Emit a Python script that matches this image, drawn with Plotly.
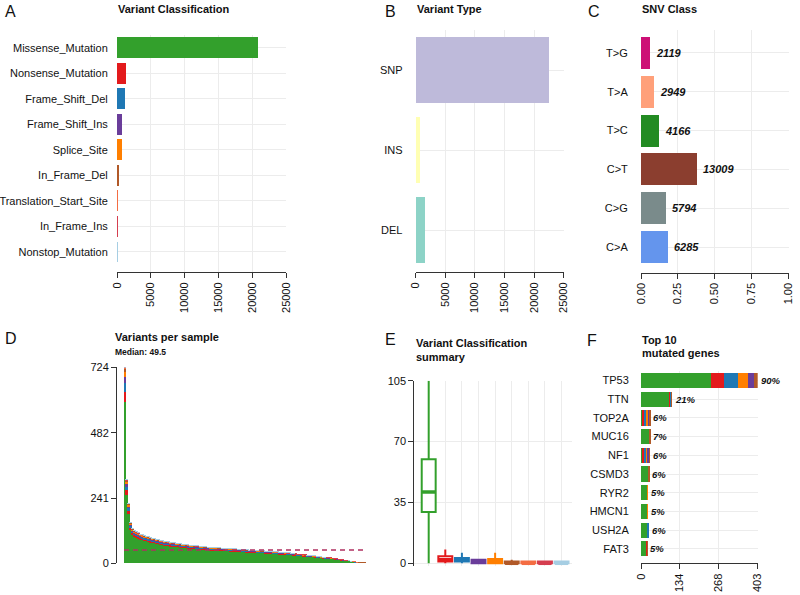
import numpy as np
import plotly.graph_objects as go

# ---------------- data ----------------
vc_classes = ["Missense_Mutation", "Nonsense_Mutation", "Frame_Shift_Del", "Frame_Shift_Ins",
              "Splice_Site", "In_Frame_Del", "Translation_Start_Site", "In_Frame_Ins", "Nonstop_Mutation"]
vc_counts = [20790, 1334, 1140, 740, 690, 345, 120, 100, 20]
vc_colors = ["#33A02C", "#E31A1C", "#1F78B4", "#6A3D9A", "#FF7F00", "#B15928", "#F46D43", "#D53E4F", "#A6CEE3"]
ab_ticks = [0, 5000, 10000, 15000, 20000, 25000]

vt_types = ["SNP", "INS", "DEL"]
vt_counts = [22570, 680, 1570]
vt_colors = ["#BEBADA", "#FFFFB3", "#8DD3C7"]

snv_classes = ["T>G", "T>A", "T>C", "C>T", "C>G", "C>A"]
snv_counts = [2119, 2949, 4166, 13009, 5794, 6285]
snv_colors = ["#CD1076", "#FFA07A", "#228B22", "#8B3E2F", "#7A8B8B", "#6495ED"]
c_ticks = [0, 0.25, 0.5, 0.75, 1]
c_ticktext = ["0.00", "0.25", "0.50", "0.75", "1.00"]

sample_totals = [724, 308, 221, 150, 128, 120, 115, 111, 107, 104,
                 101, 99, 97, 94, 92, 90, 88, 86, 84, 82,
                 80, 79, 78, 76, 75, 74, 73, 72, 71, 70,
                 69, 68, 67, 66, 65, 64, 63, 63, 62, 61,
                 60, 60, 59, 58, 58, 57, 57, 56, 56, 55,
                 55, 54, 54, 53, 53, 52, 52, 51, 51, 50,
                 50, 49, 49, 48, 48, 47, 47, 46, 46, 45,
                 45, 44, 44, 43, 43, 42, 41, 41, 40, 39,
                 39, 38, 37, 37, 36, 35, 34, 33, 33, 32,
                 31, 30, 29, 28, 28, 27, 26, 25, 24, 23,
                 22, 21, 20, 20, 19, 18, 17, 16, 14, 13,
                 12, 11, 10, 9, 7, 5, 4, 3, 2, 2,
                 1, 1]
d_ticks = [0, 241, 482, 724]

box_q1 = [29.5, 1, 1, 0, 0, 0, 0, 0, 0]
box_med = [41, 2, 2, 1, 1, 0, 0, 0, 0]
box_q3 = [59.8, 4, 3, 2, 2.5, 1, 1, 1, 1]
box_lo = [0, 0, 0, 0, 0, 0, 0, 0, 0]
box_hi = [105, 8, 6, 2, 6, 2, 1, 1, 1]
e_ticks = [0, 35, 70, 105]

genes = ["TP53", "TTN", "TOP2A", "MUC16", "NF1", "CSMD3", "RYR2", "HMCN1", "USH2A", "FAT3"]
gene_stack_classes = ["Missense_Mutation", "Nonsense_Mutation", "Frame_Shift_Del", "Splice_Site",
                      "Frame_Shift_Ins", "In_Frame_Del"]
gene_missense = [242, 97, 5, 29, 4, 25, 22, 22, 23, 20]
gene_nonsense = [46, 4, 6, 1, 7, 1, 1, 0, 1, 1]
gene_fsd = [47, 3, 8, 0, 8, 0, 0, 1, 2, 0]
gene_splice = [35, 1, 4, 1, 3, 1, 1, 1, 0, 0]
gene_fsi = [19, 1, 7, 0, 7, 0, 0, 0, 0, 0]
gene_ifd = [14, 1, 2, 1, 2, 1, 0, 0, 0, 1]
gene_pct = ["90%", "21%", "6%", "7%", "6%", "6%", "5%", "5%", "6%", "5%"]
f_ticks = [0, 134, 268, 403]

# ---------------- helpers ----------------
W, H = 800, 595
FONT = "Liberation Sans, Arial, Helvetica, sans-serif"
col_of = dict(zip(vc_classes, vc_colors))


def dx(a, b):
    return [a / W, b / W]


def dy(top, bottom):
    return [1 - bottom / H, 1 - top / H]


GRID = "#ececec"
TF = dict(size=11, color="#111111", family=FONT)
AX = dict(linecolor="#333333", linewidth=1, ticks="outside", ticklen=5, tickcolor="#333333",
          tickwidth=1, tickfont=TF, zeroline=False, automargin=False,
          gridcolor=GRID, gridwidth=1, fixedrange=True)
CAT = dict(tickfont=TF, ticks="outside", tickcolor="rgba(0,0,0,0)", zeroline=False, automargin=False,
           gridcolor=GRID, gridwidth=1, showline=False, fixedrange=True, type="category")

fig = go.Figure()

# A: variant classification
fig.add_trace(go.Bar(x=vc_counts, y=vc_classes, orientation="h", marker=dict(color=vc_colors, line_width=0),
                     width=0.82, xaxis="x", yaxis="y", showlegend=False))
# B: variant type
fig.add_trace(go.Bar(x=vt_counts, y=vt_types, orientation="h", marker=dict(color=vt_colors, line_width=0),
                     width=0.825, xaxis="x2", yaxis="y2", showlegend=False))
# C: SNV class (fraction)
snv_total = sum(snv_counts)
snv_frac = [c / snv_total for c in snv_counts]
fig.add_trace(go.Bar(x=snv_frac, y=snv_classes, orientation="h", marker=dict(color=snv_colors, line_width=0),
                     width=0.825, xaxis="x3", yaxis="y3", showlegend=False))

# D: variants per sample (stacked by class share)
totals = np.array(sample_totals, dtype=float)
shares = np.array(vc_counts, dtype=float) / sum(vc_counts)
samples = list(range(len(sample_totals)))
for cls, colr, sh in zip(vc_classes, vc_colors, shares):
    fig.add_trace(go.Bar(x=samples, y=totals * sh, marker=dict(color=colr, line_width=0), width=1.0,
                         xaxis="x4", yaxis="y4", showlegend=False))
median_val = float(np.median(totals))

# E: boxplots
for i, cls in enumerate(vc_classes):
    fig.add_trace(go.Box(x=[cls], q1=[box_q1[i]], median=[box_med[i]], q3=[box_q3[i]],
                         lowerfence=[box_lo[i]], upperfence=[box_hi[i]],
                         line=dict(color=vc_colors[i], width=2), fillcolor="white",
                         whiskerwidth=0, width=0.84, xaxis="x5", yaxis="y5", showlegend=False,
                         hoverinfo="skip"))

# F: top genes stacked
gene_stacks = [gene_missense, gene_nonsense, gene_fsd, gene_splice, gene_fsi, gene_ifd]
for cls, vals in zip(gene_stack_classes, gene_stacks):
    fig.add_trace(go.Bar(x=vals, y=genes, orientation="h", marker=dict(color=col_of[cls], line_width=0),
                         width=0.81, xaxis="x6", yaxis="y6", showlegend=False))
gene_totals = [sum(v) for v in zip(*gene_stacks)]

annotations = []


def txt(x, y, text, size, bold=False, anchor="left"):
    t = f"<b>{text}</b>" if bold else text
    annotations.append(dict(x=x / W, y=1 - y / H, xref="paper", yref="paper", text=t, showarrow=False,
                            xanchor=anchor, yanchor="middle", font=dict(size=size, color="#111111", family=FONT)))


# panel letters
for L, x, y in [("A", 3, 11), ("B", 383, 11), ("C", 586, 11), ("D", 3, 338), ("E", 383, 339), ("F", 585, 340)]:
    txt(x, y, L, 16)

# titles
txt(116, 9, "Variant Classification", 11, True)
txt(415, 9, "Variant Type", 11, True)
txt(640, 9, "SNV Class", 11, True)
txt(113, 337, "Variants per sample", 11, True)
txt(113, 351.5, f"Median: {median_val:g}", 8.5, True)
txt(414, 343, "Variant Classification", 11, True)
txt(414, 357, "summary", 11, True)
txt(640, 340, "Top 10", 11, True)
txt(640, 353, "mutated genes", 11, True)

# SNV count labels
for cls, f, c in zip(snv_classes, snv_frac, snv_counts):
    annotations.append(dict(x=f, y=cls, xref="x3", yref="y3", text=f"<b><i>{c}</i></b>", showarrow=False,
                            xanchor="left", yanchor="middle", xshift=4,
                            font=dict(size=11, color="#111111", family=FONT)))
# gene percent labels
for g, tot, p in zip(genes, gene_totals, gene_pct):
    annotations.append(dict(x=tot, y=g, xref="x6", yref="y6", text=f"<b><i>{p}</i></b>", showarrow=False,
                            xanchor="left", yanchor="middle", xshift=1,
                            font=dict(size=9.5, color="#111111", family=FONT)))

shapes = [dict(type="line", xref="x4", yref="y4", x0=-0.5, x1=len(sample_totals) - 0.5,
               y0=median_val, y1=median_val, line=dict(color="#B03060", width=1.5, dash="5px,4px"))]
# thicker median bars in the boxplots (R style)
for i, m in enumerate(box_med):
    shapes.append(dict(type="line", xref="x5", yref="y5", x0=i - 0.40, x1=i + 0.40, y0=m, y1=m,
                       line=dict(color=vc_colors[i], width=3.5)))

fig.update_layout(
    template="none",
    width=W, height=H, margin=dict(l=0, r=0, t=0, b=0, pad=0), autosize=False,
    paper_bgcolor="white", plot_bgcolor="white",
    barmode="stack", boxmode="overlay", showlegend=False,
    font=dict(family=FONT, color="#111111"),
    annotations=annotations, shapes=shapes,
    # A
    xaxis=dict(AX, domain=dx(117, 286), anchor="y", range=[0, 25000],
               tickvals=ab_ticks, ticktext=[str(v) for v in ab_ticks], tickangle=-90,
               showline=True, showgrid=True),
    yaxis=dict(CAT, domain=dy(35, 272), anchor="x", categoryorder="array", categoryarray=vc_classes[::-1],
               range=[-0.784, 8.5], ticklen=6, showgrid=True),
    # B
    xaxis2=dict(AX, domain=dx(415.7, 563.7), anchor="y2", range=[0, 25000],
                tickvals=ab_ticks, ticktext=[str(v) for v in ab_ticks], tickangle=-90,
                showline=True, showgrid=True),
    yaxis2=dict(CAT, domain=dy(30, 272), anchor="x2", categoryorder="array", categoryarray=vt_types[::-1],
                range=[-0.525, 2.5], ticklen=10, showgrid=True),
    # C
    xaxis3=dict(AX, domain=dx(641, 788.7), anchor="y3", range=[0, 1],
                tickvals=c_ticks, ticktext=c_ticktext, tickangle=-90, showline=True, showgrid=True),
    yaxis3=dict(CAT, domain=dy(30, 272.5), anchor="x3", categoryorder="array", categoryarray=snv_classes[::-1],
                range=[-0.657, 5.59], ticklen=10, showgrid=True),
    # D
    xaxis4=dict(domain=dx(117, 370), anchor="y4", range=[-4.03, 123.5], visible=False, fixedrange=True,
                automargin=False),
    yaxis4=dict(AX, domain=dy(367.3, 563.3), anchor="x4", range=[0, 724], tickvals=d_ticks,
                ticktext=[str(v) for v in d_ticks], showline=True, showgrid=False),
    # E
    xaxis5=dict(CAT, domain=dx(414.3, 572), anchor="y5", categoryorder="array", categoryarray=vc_classes,
                range=[-0.867, 8.63], showticklabels=False, ticks="", showgrid=True),
    yaxis5=dict(AX, domain=dy(380.7, 565.9), anchor="x5", range=[-1.5, 105], tickvals=e_ticks,
                ticktext=[str(v) for v in e_ticks], showline=True, showgrid=True),
    # F
    xaxis6=dict(AX, domain=dx(641, 757.7), anchor="y6", range=[0, 403], tickvals=f_ticks,
                ticktext=[str(v) for v in f_ticks], tickangle=-90, showline=True, showgrid=True),
    yaxis6=dict(CAT, domain=dy(371, 563.3), anchor="x6", categoryorder="array", categoryarray=genes[::-1],
                range=[-0.775, 9.51], ticklen=9, showgrid=True),
)

fig.write_html("out.html", config={"displayModeBar": False},
               post_script="document.body.style.margin='0px';document.body.style.overflow='hidden';")
